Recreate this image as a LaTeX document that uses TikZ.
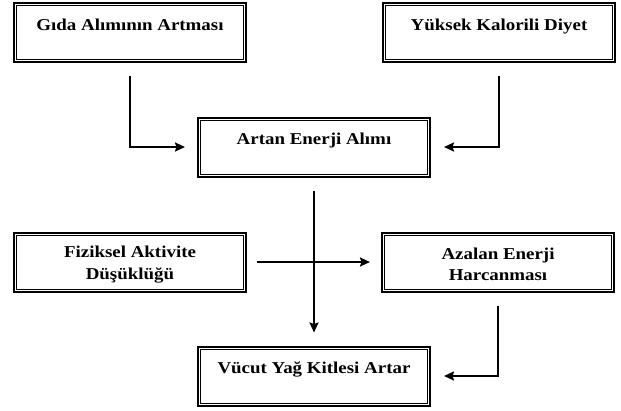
\documentclass[tikz,border=0pt]{standalone}
\usepackage{fontspec}
\usepackage{graphicx}
\setmainfont{Liberation Serif}
\newcommand\wl[1]{\scalebox{1.14}[1]{#1}}
\newcommand\firstline[1]{\rule{0pt}{16.5pt}\wl{#1}}
\usetikzlibrary{arrows.meta}
\tikzset{
  flowbox/.style={draw, line width=2pt, minimum width=232pt, minimum height=59pt,
    inner sep=0pt, align=center, font=\bfseries\fontsize{16.6pt}{21.5pt}\selectfont},
  innerframe/.style={line width=1pt},
  conn/.style={line width=2pt, -{Stealth[length=10pt,width=9pt,inset=1.5pt]}}
}
\begin{document}
\begin{tikzpicture}[x=1pt,y=-1pt]
\useasboundingbox (0,0) rectangle (621,410);
\node[flowbox] (b1) at (130,32.5) {\firstline{Gıda Alımının Artması}\\\mbox{}};
\node[flowbox] (b2) at (499,32.5) {\firstline{Yüksek Kalorili Diyet}\\\mbox{}};
\node[flowbox] (b3) at (314,147) {\firstline{Artan Enerji Alımı}\\\mbox{}};
\node[flowbox] (b4) at (130,262) {\firstline{Fiziksel Aktivite}\\\wl{Düşüklüğü}};
\node[flowbox] (b5) at (498,262) {\firstline{Azalan Enerji}\\\wl{Harcanması}};
\node[flowbox] (b6) at (314,376) {\firstline{Vücut Yağ Kitlesi Artar}\\\mbox{}};
\foreach \n in {b1,b2,b3,b4,b5,b6}
  \draw[innerframe] ([shift={(3.5pt,-3.5pt)}]\n.north west) rectangle ([shift={(-3.5pt,3.5pt)}]\n.south east);
\draw[conn, shorten <=13pt, shorten >=12pt] (b1.south) |- (b3.west);
\draw[conn, shorten <=13pt, shorten >=13pt] (b2.south) |- (b3.east);
\draw[conn, shorten <=13pt, shorten >=13pt] (b3.south) -- (b6.north);
\draw[conn, shorten <=10pt, shorten >=11pt] (b4.east) -- (b5.west);
\draw[conn, shorten <=13pt, shorten >=13pt] (b5.south) |- (b6.east);
\end{tikzpicture}
\end{document}
